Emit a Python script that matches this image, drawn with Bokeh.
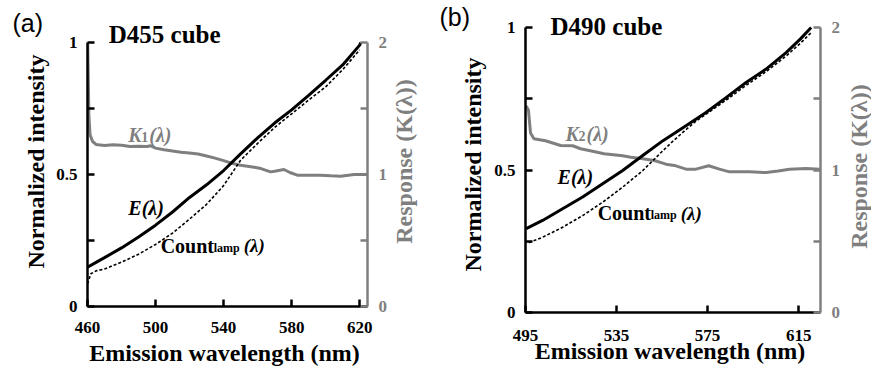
import math
from bokeh.plotting import figure
from bokeh.models import Range1d, LinearAxis, FixedTicker, Label, Title
from bokeh.layouts import row, column
from bokeh.embed import file_html
from bokeh.resources import INLINE

# ---------------- data: panel (a) D455 cube ----------------
wl_a_E = [460, 470, 480, 490, 500, 510, 520, 530, 540, 550, 560, 570, 580, 590, 600, 610, 620, 620.6]
E_a = [0.149, 0.185, 0.222, 0.263, 0.308, 0.358, 0.413, 0.461, 0.515, 0.578, 0.639, 0.695, 0.745, 0.800, 0.857, 0.915, 0.990, 1.0]

wl_a_C = [460, 461, 462, 465, 470, 480, 490, 500, 510, 520, 530, 540, 550, 560, 570, 580, 590, 600, 610, 620]
C_a = [0.086, 0.105, 0.124, 0.135, 0.142, 0.168, 0.198, 0.235, 0.278, 0.331, 0.387, 0.458, 0.554, 0.618, 0.678, 0.730, 0.782, 0.832, 0.897, 0.972]

wl_a_K = [460.1, 460.5, 460.8, 461.5, 463, 465, 470, 475, 480, 485, 490, 495, 497, 500, 505, 510, 515, 520, 525,
          530, 535, 540, 546, 550, 558, 562, 567.6, 570, 575.5, 579, 583.3, 590, 597, 603, 608.8, 616.7, 624.5]
K_a = [2.0, 1.7, 1.45, 1.3, 1.25, 1.228, 1.22, 1.226, 1.222, 1.212, 1.214, 1.212, 1.218, 1.2, 1.187, 1.178, 1.169,
       1.162, 1.155, 1.14, 1.124, 1.105, 1.081, 1.07, 1.055, 1.045, 1.02, 1.025, 1.038, 1.015, 0.995, 0.995, 0.995,
       0.99, 0.987, 1.0, 1.0]

xticks_a = [460, 500, 540, 580, 620]

# ---------------- data: panel (b) D490 cube ----------------
wl_b_E = [495.3, 502.5, 511.3, 520.1, 528.9, 537.7, 546.5, 555.4, 565.5, 574.3, 583.1, 591.9, 600.7, 609.5, 615.8, 620.5]
E_b = [0.294, 0.323, 0.364, 0.405, 0.452, 0.498, 0.551, 0.603, 0.655, 0.702, 0.754, 0.807, 0.854, 0.912, 0.960, 1.0]

wl_b_C = [496.5, 502.5, 511.3, 520.1, 528.9, 537.7, 546.5, 555, 560, 565, 570, 574.3, 583.1, 591.9, 600.7, 609.5, 615.8, 620.5]
C_b = [0.245, 0.264, 0.299, 0.340, 0.387, 0.440, 0.498, 0.565, 0.603, 0.638, 0.672, 0.696, 0.745, 0.797, 0.845, 0.900, 0.945, 0.982]

wl_b_K = [495.3, 496.3, 497.2, 498.7, 503.8, 510.4, 515.7, 519.2, 525, 529.5, 537.7, 541.3, 546.5, 551.6, 556.7,
          560.4, 565.5, 569.9, 575.5, 580.2, 584.6, 593.4, 600.7, 606, 611, 618.3, 624.3]
K_b = [1.45, 1.42, 1.26, 1.22, 1.205, 1.172, 1.17, 1.149, 1.13, 1.114, 1.1, 1.09, 1.079, 1.067, 1.041, 1.032, 1.006,
       1.006, 1.03, 1.006, 0.987, 0.987, 0.982, 0.993, 1.006, 1.01, 1.005]

xticks_b = [495, 535, 575, 615]

GRAY = "#7f7f7f"
SERIF = "Liberation Serif"
SANS = "Liberation Sans"


def lab(p, x, y, text, size, style="bold", color="black", font=SERIF, dx=0, dy=0):
    p.add_layout(Label(x=x, y=y, text=text, text_font=font, text_font_size=f"{size}px",
                       text_font_style=style, text_color=color, text_align="left",
                       text_baseline="middle", x_offset=dx, y_offset=dy))


def panel(wl_E, E, wl_C, C, wl_K, K, xr, ytop, xticks, W, H, bl, br, bt, bb,
          tag, tag_dx, tag_so, x_mls, x_als, y_als, resp_xy):
    p = figure(width=W, height=H, x_range=Range1d(*xr), y_range=Range1d(0, ytop),
               output_backend="svg", toolbar_location=None,
               min_border_left=bl, min_border_right=br, min_border_top=bt, min_border_bottom=bb)
    p.outline_line_color = None
    p.xgrid.visible = False
    p.ygrid.visible = False
    p.background_fill_color = "white"
    p.border_fill_color = "white"
    p.extra_y_ranges = {"k": Range1d(0, 2 * ytop)}

    # left axis
    ya = p.yaxis[0]
    ya.ticker = FixedTicker(ticks=[0, 0.5, 1], minor_ticks=[0.25, 0.75])
    ya.major_label_overrides = {0: "0", 0.5: "0.5", 1: "1"}
    ya.axis_label = "Normalized intensity"
    ya.bounds = (0, 1)
    # bottom axis
    xa = p.xaxis[0]
    xa.ticker = FixedTicker(ticks=xticks, minor_ticks=[])
    xa.axis_label = "Emission  wavelength (nm)"
    # right axis (its title is drawn as a rotated label in the right panel)
    ra = LinearAxis(y_range_name="k", ticker=FixedTicker(ticks=[0, 1, 2], minor_ticks=[0.5, 1.5]),
                    bounds=(0, 2))
    p.add_layout(ra, "right")

    for ax, col in ((ya, "black"), (xa, "black"), (ra, GRAY)):
        ax.axis_line_color = col
        ax.axis_line_width = 2.5
        ax.major_tick_line_color = col
        ax.major_tick_line_width = 2.5
        ax.minor_tick_line_color = col
        ax.minor_tick_line_width = 2.5
        ax.major_tick_in = 7
        ax.major_tick_out = 0
        ax.minor_tick_in = 7
        ax.minor_tick_out = 0
        ax.major_label_text_font = SERIF
        ax.major_label_text_font_style = "bold"
        ax.major_label_text_font_size = "17px"
        ax.major_label_text_color = col
        ax.axis_label_text_font = SERIF
        ax.axis_label_text_font_style = "bold"
        ax.axis_label_text_font_size = "24px"
        ax.axis_label_text_color = col
    ya.major_label_standoff = 10
    xa.major_label_standoff = x_mls
    ra.major_label_standoff = 11
    ya.axis_label_standoff = y_als
    xa.axis_label_standoff = x_als

    resp = Label(x=resp_xy[0], y=resp_xy[1], text="Response (K(λ))", angle=math.pi / 2,
                 text_font=SERIF, text_font_style="bold", text_font_size="24px", text_color=GRAY,
                 text_align="center", text_baseline="middle")
    p.add_layout(resp, "right")

    p.line(wl_K, K, y_range_name="k", line_color=GRAY, line_width=3)
    p.line(wl_C, C, line_color="black", line_width=1.6, line_dash="3 2")
    p.line(wl_E, E, line_color="black", line_width=3)

    p.add_layout(Title(text=tag, align="left", offset=tag_dx, standoff=tag_so, vertical_align="bottom",
                       text_font=SANS, text_font_style="normal", text_font_size="25px",
                       text_color="black"), "above")
    return p


TOP = 16  # common top border (frames extended upward; axes bounded at 1)

# panel (a): axes 87..367 x 42..306 ; figure 0..436
pa = panel(wl_a_E, E_a, wl_a_C, C_a, wl_a_K, K_a, (460, 624.6), 1 + (42 - TOP) / 264, xticks_a,
           436, 376, 87, 69, TOP, 70, "(a)", -75, -2 * (36 - TOP), 15, 4, 4, (645.9, 0.549))
lab(pa, 472.5, 1.030, "D455 cube", 25)
lab(pa, 484, 0.648, "K", 20, style="bold italic", color=GRAY)
lab(pa, 484, 0.648, "1", 14, color=GRAY, dx=13, dy=-2)
lab(pa, 484, 0.648, "(λ)", 20, style="bold italic", color=GRAY, dx=21)
lab(pa, 484, 0.375, "E(λ)", 20, style="bold italic")
lab(pa, 503, 0.231, "Count", 20)
lab(pa, 503, 0.231, "lamp", 12, dx=53, dy=-2)
lab(pa, 503, 0.231, "(λ)", 19, style="bold italic", dx=83)

# panel (b): axes 525..820 x 27..312 ; figure 436..871
pb = panel(wl_b_E, E_b, wl_b_C, C_b, wl_b_K, K_b, (495, 624.6), 1 + (27 - TOP) / 285, xticks_b,
           435, 376, 89, 51, TOP, 64, "(b)", -86, -2 * (30 - TOP), 17, -6, 5, (641.3, 0.512))
lab(pb, 506, 1.0035, "D490 cube", 25)
lab(pb, 512.6, 0.626, "K", 20, style="bold italic", color=GRAY)
lab(pb, 512.6, 0.626, "2", 14, color=GRAY, dx=13, dy=-2)
lab(pb, 512.6, 0.626, "(λ)", 20, style="bold italic", color=GRAY, dx=21)
lab(pb, 509.1, 0.475, "E(λ)", 20, style="bold italic")
lab(pb, 526.7, 0.349, "Count", 20)
lab(pb, 526.7, 0.349, "lamp", 12, dx=53, dy=-2)
lab(pb, 526.7, 0.349, "(λ)", 19, style="bold italic", dx=83)

layout = row(column(pa), column(pb))
open("out.html", "w").write(file_html(layout, INLINE))
